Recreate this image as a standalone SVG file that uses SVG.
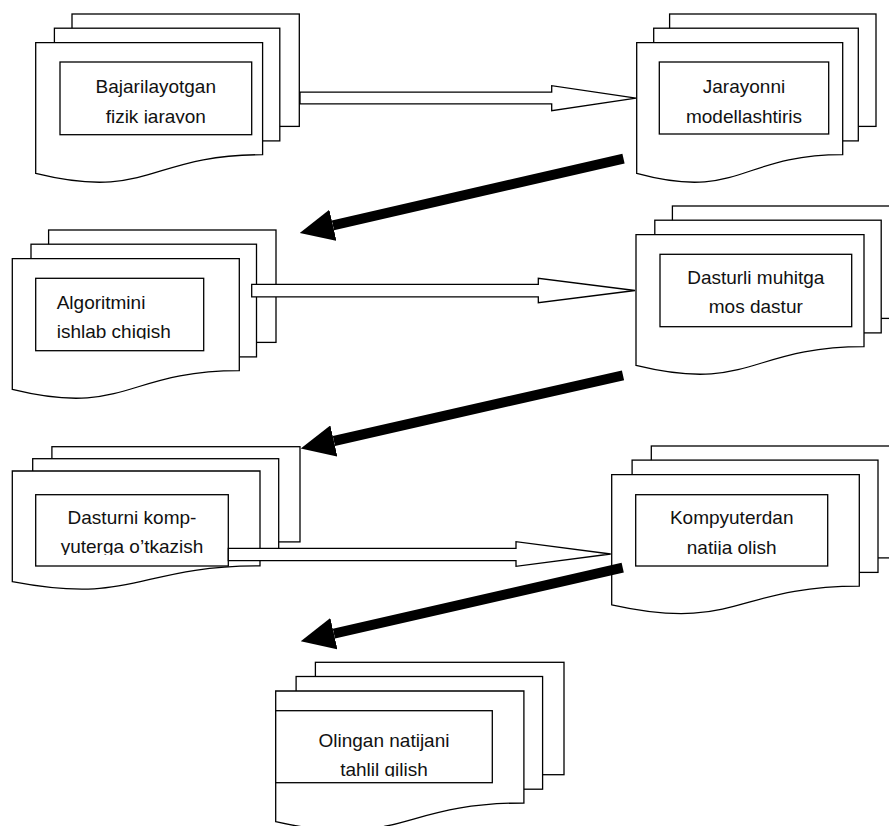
<svg xmlns="http://www.w3.org/2000/svg" width="889" height="826" viewBox="0 0 889 826">
<style>
.pg{fill:#fff;stroke:#000;stroke-width:1.3}
.in{fill:#fff;stroke:#000;stroke-width:1.3}
.t{font-family:"Liberation Sans",Arial,sans-serif;font-size:19px;fill:#111}
.c{text-anchor:middle}
.ha{fill:#fff;stroke:#000;stroke-width:1.3;stroke-linejoin:miter}
.ta{stroke:#000;stroke-width:10;fill:none;stroke-linecap:butt;marker-end:url(#head)}
</style>
<defs>
<marker id="head" markerUnits="userSpaceOnUse" markerWidth="34" markerHeight="32" viewBox="0 0 34 32" refX="0" refY="16" orient="auto">
<path d="M0,0 L34,16 L0,32 Z" fill="#000"/>
</marker>
<clipPath id="c1"><rect x="60" y="62" width="191.7" height="61.5"/></clipPath>
<clipPath id="c2"><rect x="659.3" y="62" width="169.4" height="61.5"/></clipPath>
<clipPath id="c3"><rect x="35.7" y="278.3" width="168" height="61"/></clipPath>
<clipPath id="c4"><rect x="660" y="254.3" width="191.7" height="60"/></clipPath>
<clipPath id="c5"><rect x="35.7" y="494.7" width="192.6" height="60.3"/></clipPath>
<clipPath id="c6"><rect x="635.7" y="494.7" width="192" height="60.3"/></clipPath>
<clipPath id="c7"><rect x="275.7" y="710.7" width="216.6" height="66"/></clipPath>
</defs>

<g id="node1">
<rect class="pg" x="72" y="14" width="227.3" height="112.4"/>
<rect class="pg" x="54.4" y="28.2" width="225.4" height="112.7"/>
<path class="pg" d="M35.7,42.7 H262.6 V154.7 C149.2,154.7 149.2,201.3 35.7,173.4 Z"/>
<rect class="in" x="60" y="62" width="191.7" height="72.7"/>
<g clip-path="url(#c1)">
<text class="t c" x="155.8" y="93">Bajarilayotgan</text>
<text class="t c" x="155.8" y="122.7">fizik jarayon</text>
</g>
</g>

<g id="node2">
<rect class="pg" x="669.6" y="14" width="206.4" height="112.4"/>
<rect class="pg" x="653.7" y="28.2" width="204.6" height="112.7"/>
<path class="pg" d="M636.7,42.7 H842.7 V154.7 C739.7,154.7 739.7,201.3 636.7,173.4 Z"/>
<rect class="in" x="659.3" y="62" width="169.4" height="72"/>
<g clip-path="url(#c2)">
<text class="t c" x="744" y="93">Jarayonni</text>
<text class="t c" x="744" y="122.7">modellashtiris</text>
</g>
</g>

<g id="node3">
<rect class="pg" x="48.6" y="230" width="227.4" height="112.4"/>
<rect class="pg" x="31" y="244.2" width="225.5" height="112.7"/>
<path class="pg" d="M12.3,258.7 H239.3 V370.7 C125.8,370.7 125.8,417.3 12.3,389.4 Z"/>
<rect class="in" x="35.7" y="278.3" width="168" height="72.4"/>
<g clip-path="url(#c3)">
<text class="t" x="56.7" y="309.3">Algoritmini</text>
<text class="t" x="56.7" y="338.3">ishlab chiqish</text>
</g>
</g>

<g id="node4">
<rect class="pg" x="672.4" y="206" width="228.4" height="112.4"/>
<rect class="pg" x="654.8" y="220.2" width="226.4" height="112.7"/>
<path class="pg" d="M636,234.7 H864 V346.7 C750,346.7 750,393.3 636,365.4 Z"/>
<rect class="in" x="660" y="254.3" width="191.7" height="72.4"/>
<g clip-path="url(#c4)">
<text class="t c" x="755.8" y="284">Dasturli muhitga</text>
<text class="t c" x="755.8" y="313.3">mos dastur</text>
</g>
</g>

<g id="node5">
<rect class="pg" x="51.9" y="446.7" width="248.1" height="95.2"/>
<rect class="pg" x="32.7" y="458.7" width="246" height="95.5"/>
<path class="pg" d="M12.3,471 H260 V565.9 C136.2,565.9 136.2,605.3 12.3,581.7 Z"/>
<rect class="in" x="35.7" y="494.7" width="192.6" height="71.3"/>
<g clip-path="url(#c5)">
<text class="t c" x="132" y="524.3">Dasturni komp-</text>
<text class="t c" x="132" y="553.3">yuterga o’tkazish</text>
</g>
</g>

<g id="node6">
<rect class="pg" x="651.3" y="446" width="248" height="111.9"/>
<rect class="pg" x="632.1" y="460.1" width="245.9" height="112.3"/>
<path class="pg" d="M611.7,474.6 H859.3 V586.2 C735.5,586.2 735.5,632.5 611.7,604.8 Z"/>
<rect class="in" x="635.7" y="494.7" width="192" height="71.3"/>
<g clip-path="url(#c6)">
<text class="t c" x="731.7" y="524.3">Kompyuterdan</text>
<text class="t c" x="731.7" y="554">natija olish</text>
</g>
</g>

<g id="node7">
<rect class="pg" x="315.4" y="662.3" width="248.6" height="112.4"/>
<rect class="pg" x="296.1" y="676.5" width="246.5" height="112.7"/>
<path class="pg" d="M275.7,691 H523.9 V803 C399.8,803 399.8,849.6 275.7,821.7 Z"/>
<rect class="in" x="275.7" y="710.7" width="216.6" height="72"/>
<g clip-path="url(#c7)">
<text class="t c" x="384" y="746.7">Olingan natijani</text>
<text class="t c" x="384" y="775.8">tahlil qilish</text>
</g>
</g>

<g id="connectors">
<path class="ha" d="M300,92.2 H551.7 V85.7 L636,98.2 L551.7,110.7 V103.8 H300 Z"/>
<path class="ha" d="M251.7,284.4 H538.3 V278.3 L635,290.5 L538.3,302.7 V296.9 H251.7 Z"/>
<path class="ha" d="M228.3,548.3 H516 V541.7 L610.7,554 L516,566.3 V560.7 H228.3 Z"/>
<line class="ta" x1="623.5" y1="158.7" x2="332.9" y2="225.3"/>
<line class="ta" x1="623" y1="375.3" x2="333.9" y2="441"/>
<line class="ta" x1="622.7" y1="567.7" x2="333.9" y2="633.7"/>
</g>
</svg>
